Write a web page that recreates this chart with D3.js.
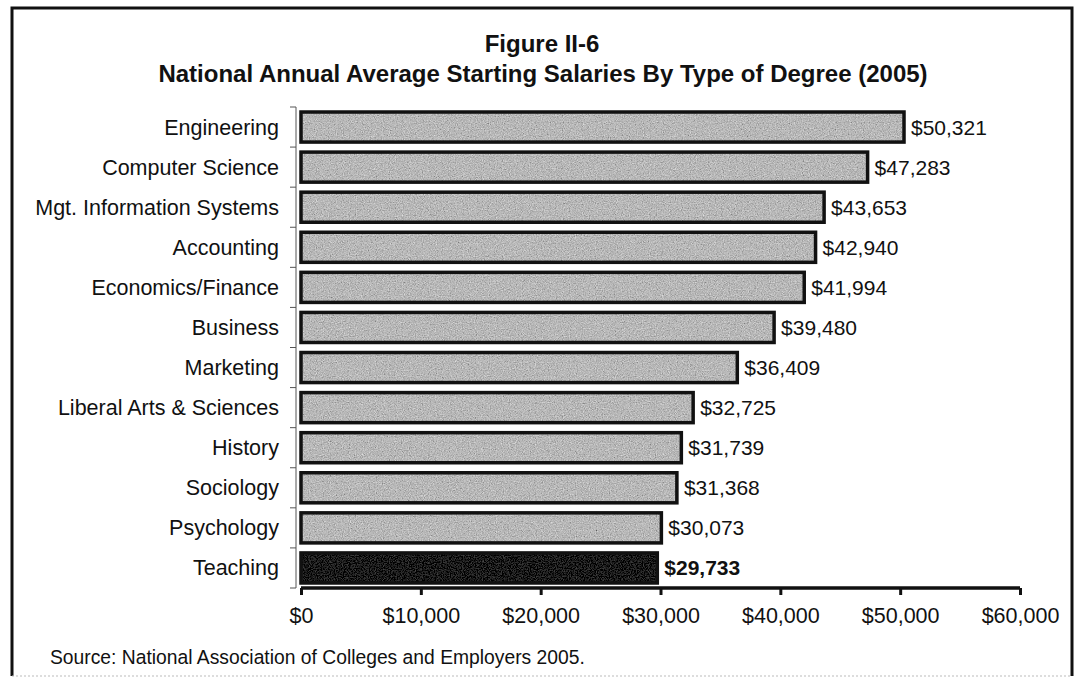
<!DOCTYPE html>
<html>
<head>
<meta charset="utf-8">
<script src="https://cdn.jsdelivr.net/npm/d3@7"></script>
<style>
  html, body { margin: 0; padding: 0; background: #fff; }
  svg { display: block; font-family: "Liberation Sans", Arial, sans-serif; }
</style>
</head>
<body>
<svg id="chart" width="1077" height="681"></svg>
<script>
// Degree types and average starting salaries (2005)
const degrees = [
  "Engineering", "Computer Science", "Mgt. Information Systems", "Accounting",
  "Economics/Finance", "Business", "Marketing", "Liberal Arts & Sciences",
  "History", "Sociology", "Psychology", "Teaching"
];
const salaries = [50321, 47283, 43653, 42940, 41994, 39480, 36409, 32725, 31739, 31368, 30073, 29733];
const highlighted = ["Teaching"];
const xTicks = [0, 10000, 20000, 30000, 40000, 50000, 60000];
const titleLines = [
  "Figure II-6",
  "National Annual Average Starting Salaries By Type of Degree (2005)"
];
const sourceNote = "Source: National Association of Colleges and Employers 2005.";

const rows = degrees.map((d, i) => ({ degree: d, value: salaries[i] }));

const svg = d3.select("#chart");

// grainy fill for the bars
const defs = svg.append("defs");
function grainFilter(id, strength) {
  const f = defs.append("filter").attr("id", id)
    .attr("x", 0).attr("y", 0).attr("width", "100%").attr("height", "100%");
  f.append("feTurbulence").attr("type", "fractalNoise")
    .attr("baseFrequency", 0.85).attr("numOctaves", 2).attr("seed", 7).attr("result", "noise");
  f.append("feColorMatrix").attr("in", "noise").attr("type", "matrix")
    .attr("values", "0.33 0.33 0.33 0 0  0.33 0.33 0.33 0 0  0.33 0.33 0.33 0 0  0 0 0 0 1")
    .attr("result", "gray");
  f.append("feComposite").attr("in", "SourceGraphic").attr("in2", "gray")
    .attr("operator", "arithmetic").attr("k1", 0).attr("k2", 1)
    .attr("k3", strength).attr("k4", -strength / 2)
    .attr("result", "mixed");
  f.append("feComposite").attr("in", "mixed").attr("in2", "SourceGraphic").attr("operator", "in");
}
grainFilter("grain", 1.1);
grainFilter("grainDark", 0.25);

// outer frame
svg.append("path").attr("d", "M12,676 L12,8 L1072,8 L1072,676")
  .attr("stroke", "#111").attr("stroke-width", 3).attr("fill", "none");
svg.append("line").attr("x1", 12).attr("x2", 1072).attr("y1", 676).attr("y2", 676)
  .attr("stroke", "#bbb").attr("stroke-width", 1.2).attr("stroke-dasharray", "2,2");

// titles
svg.append("text").attr("x", 542).attr("y", 52).attr("text-anchor", "middle")
  .attr("font-size", 24).attr("font-weight", "bold").attr("fill", "#111").text(titleLines[0]);
svg.append("text").attr("x", 543).attr("y", 82).attr("text-anchor", "middle")
  .attr("font-size", 24).attr("font-weight", "bold").attr("fill", "#111").text(titleLines[1]);

// scales
const x = d3.scaleLinear().domain([0, 60000]).range([301, 1020]);
const y = d3.scaleBand().domain(degrees).range([107, 588]).paddingInner(0.25).paddingOuter(0.125);

// category axis: thin line with separators between bands
const yAxisX = x(0) - 5;
const yAxis = svg.append("g");
yAxis.append("line").attr("x1", yAxisX).attr("x2", yAxisX)
  .attr("y1", y.range()[0]).attr("y2", y.range()[1])
  .attr("stroke", "#555").attr("stroke-width", 1);
yAxis.selectAll("line.sep").data(d3.range(degrees.length + 1)).join("line")
  .attr("class", "sep")
  .attr("x1", yAxisX - 6).attr("x2", yAxisX)
  .attr("y1", i => y.range()[0] + i * y.step())
  .attr("y2", i => y.range()[0] + i * y.step())
  .attr("stroke", "#555").attr("stroke-width", 1);
yAxis.selectAll("text").data(degrees).join("text")
  .attr("x", 279).attr("y", d => y(d) + y.bandwidth() / 2 + 7.5)
  .attr("text-anchor", "end").attr("font-size", 21.5).attr("fill", "#111")
  .text(d => d);

// bars
const bars = svg.append("g");
bars.selectAll("rect.fill").data(rows).join("rect")
  .attr("class", "fill")
  .attr("x", x(0)).attr("y", d => y(d.degree))
  .attr("width", d => x(d.value) - x(0)).attr("height", y.bandwidth())
  .attr("fill", d => highlighted.includes(d.degree) ? "#1c1c1c" : "#b8b8b8")
  .attr("filter", d => highlighted.includes(d.degree) ? "url(#grainDark)" : "url(#grain)");
bars.selectAll("rect.edge").data(rows).join("rect")
  .attr("class", "edge")
  .attr("x", x(0)).attr("y", d => y(d.degree))
  .attr("width", d => x(d.value) - x(0)).attr("height", y.bandwidth())
  .attr("fill", "none").attr("stroke", "#111").attr("stroke-width", 3.5);

// value labels
const fmt = d3.format("$,");
bars.selectAll("text").data(rows).join("text")
  .attr("x", d => x(d.value) + 7)
  .attr("y", d => y(d.degree) + y.bandwidth() / 2 + 7.5)
  .attr("font-size", 21)
  .attr("font-weight", d => highlighted.includes(d.degree) ? "bold" : "normal")
  .attr("fill", "#111")
  .text(d => fmt(d.value));

// value axis
const xAxis = svg.append("g").attr("transform", `translate(0,${y.range()[1]})`)
  .call(d3.axisBottom(x).tickValues(xTicks).tickFormat(fmt).tickSize(7).tickPadding(13));
xAxis.select(".domain").attr("stroke", "#111").attr("stroke-width", 3.5)
  .attr("d", `M${x(0)},0H${x(60000)}`);
xAxis.selectAll(".tick line").attr("stroke", "#111").attr("stroke-width", 3);
xAxis.selectAll(".tick text").attr("font-size", 21.5).attr("fill", "#111")
  .attr("font-family", "Liberation Sans, Arial, sans-serif");

// source note
svg.append("text").attr("x", 50).attr("y", 664)
  .attr("font-size", 19.3).attr("fill", "#111").text(sourceNote);
</script>
</body>
</html>
